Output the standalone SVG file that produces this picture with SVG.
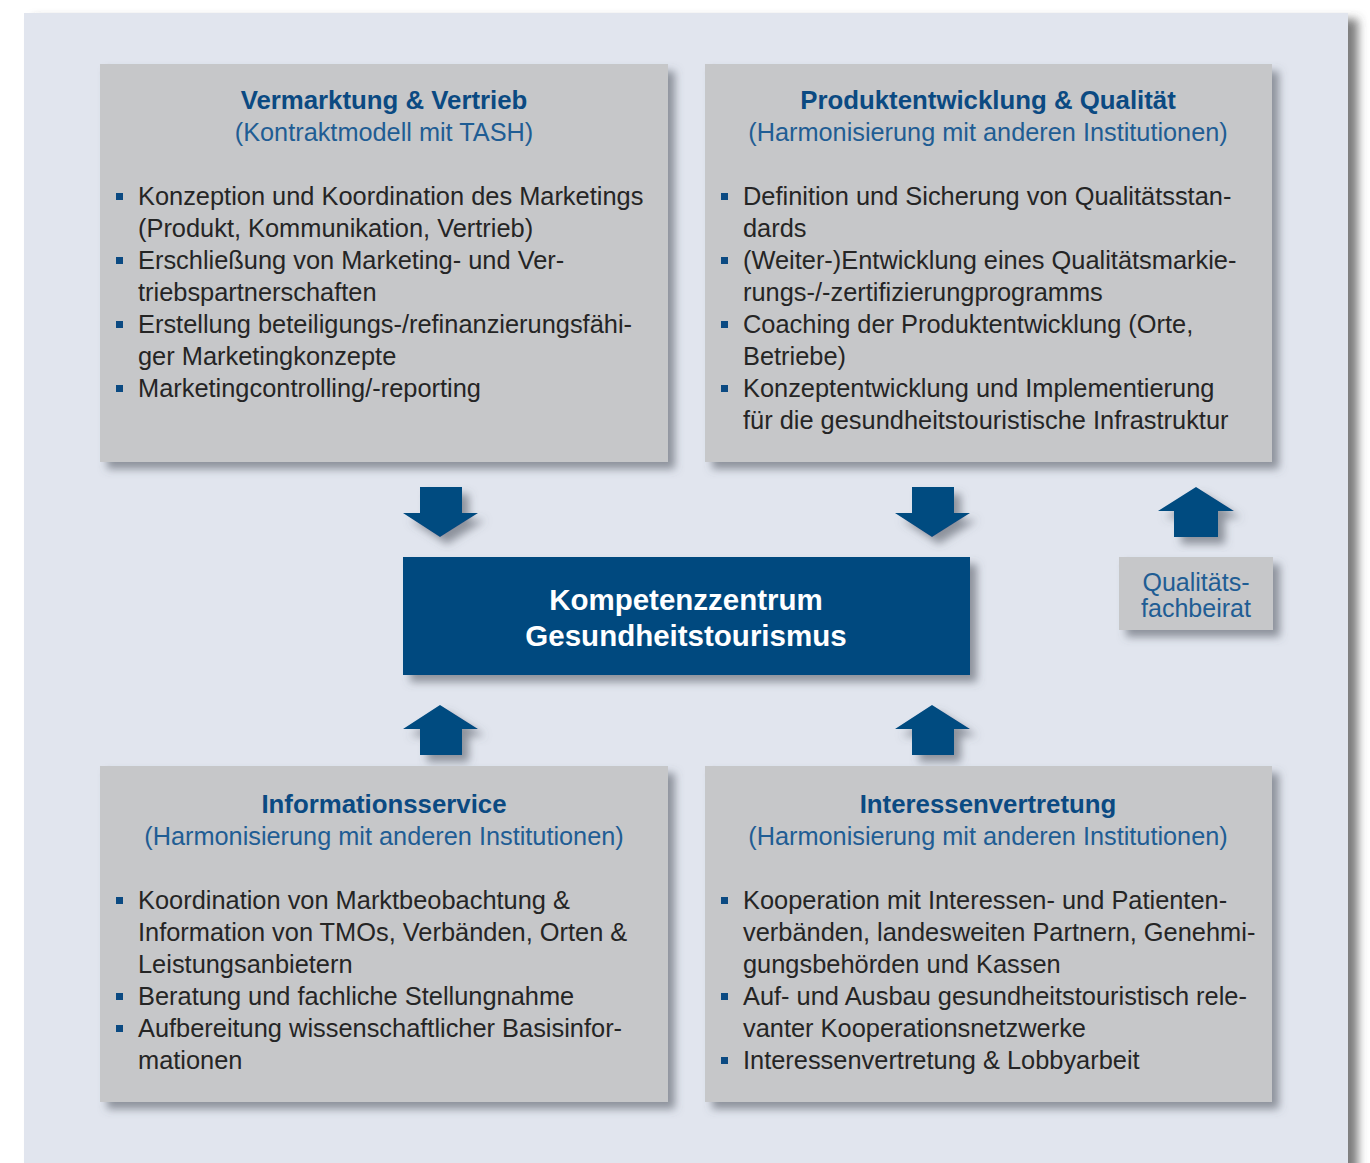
<svg xmlns="http://www.w3.org/2000/svg" width="1370" height="1163" viewBox="0 0 1370 1163">
<defs>
<filter id="sh" x="-10%" y="-10%" width="130%" height="140%">
<feDropShadow dx="7" dy="7" stdDeviation="4" flood-color="#555a66" flood-opacity="0.6"/>
</filter>
<filter id="shp" x="-5%" y="-5%" width="110%" height="110%">
<feDropShadow dx="10" dy="6" stdDeviation="5" flood-color="#444" flood-opacity="0.7"/>
</filter>
<style>
.box{fill:#c6c7c9}
.ttl{font-family:"Liberation Sans",Arial,sans-serif;font-weight:bold;font-size:25.8px;fill:#0b4a82;text-anchor:middle}
.sub{font-family:"Liberation Sans",Arial,sans-serif;font-size:25.3px;fill:#1f5d94;text-anchor:middle}
.bd{font-family:"Liberation Sans",Arial,sans-serif;font-size:25.4px;fill:#252525}
.bl{fill:#0b4a82}
.arr{fill:#024b80}
.ctr{font-family:"Liberation Sans",Arial,sans-serif;font-weight:bold;font-size:29.5px;fill:#fff;text-anchor:middle}
.q{font-family:"Liberation Sans",Arial,sans-serif;font-size:25px;fill:#1f5d94;text-anchor:middle}
</style>
</defs>
<rect x="0" y="0" width="1370" height="1163" fill="#ffffff"/>
<rect x="24" y="13" width="1324" height="1170" fill="#e1e5ee" filter="url(#shp)"/>

<g id="connectors">
<polygon class="arr" filter="url(#sh)" points="420,487 462,487 462,513 478,513 440,537 403,513 420,513"/>
<polygon class="arr" filter="url(#sh)" points="912,487 954,487 954,513 970,513 932,537 895,513 912,513"/>
<polygon class="arr" filter="url(#sh)" points="1196,487 1234,511 1218,511 1218,537 1174,537 1174,511 1158,511"/>
<polygon class="arr" filter="url(#sh)" points="440,705 478,729 462,729 462,755 420,755 420,729 403,729"/>
<polygon class="arr" filter="url(#sh)" points="932,705 970,729 954,729 954,755 912,755 912,729 895,729"/>
</g>

<g id="vermarktung">
<rect class="box" x="100" y="64" width="568" height="398" filter="url(#sh)"/>
<text class="ttl" x="384" y="109">Vermarktung &amp; Vertrieb</text>
<text class="sub" x="384" y="141">(Kontraktmodell mit TASH)</text>
<rect class="bl" x="116" y="193" width="7" height="7"/>
<text class="bd" x="138" y="205">Konzeption und Koordination des Marketings</text>
<text class="bd" x="138" y="237">(Produkt, Kommunikation, Vertrieb)</text>
<rect class="bl" x="116" y="257" width="7" height="7"/>
<text class="bd" x="138" y="269">Erschließung von Marketing- und Ver-</text>
<text class="bd" x="138" y="301">triebspartnerschaften</text>
<rect class="bl" x="116" y="321" width="7" height="7"/>
<text class="bd" x="138" y="333">Erstellung beteiligungs-/refinanzierungsfähi-</text>
<text class="bd" x="138" y="365">ger Marketingkonzepte</text>
<rect class="bl" x="116" y="385" width="7" height="7"/>
<text class="bd" x="138" y="397">Marketingcontrolling/-reporting</text>
</g>

<g id="produktentwicklung">
<rect class="box" x="705" y="64" width="567" height="398" filter="url(#sh)"/>
<text class="ttl" x="988" y="109">Produktentwicklung &amp; Qualität</text>
<text class="sub" x="988" y="141">(Harmonisierung mit anderen Institutionen)</text>
<rect class="bl" x="721" y="193" width="7" height="7"/>
<text class="bd" x="743" y="205">Definition und Sicherung von Qualitätsstan-</text>
<text class="bd" x="743" y="237">dards</text>
<rect class="bl" x="721" y="257" width="7" height="7"/>
<text class="bd" x="743" y="269">(Weiter-)Entwicklung eines Qualitätsmarkie-</text>
<text class="bd" x="743" y="301">rungs-/-zertifizierungprogramms</text>
<rect class="bl" x="721" y="321" width="7" height="7"/>
<text class="bd" x="743" y="333">Coaching der Produktentwicklung (Orte,</text>
<text class="bd" x="743" y="365">Betriebe)</text>
<rect class="bl" x="721" y="385" width="7" height="7"/>
<text class="bd" x="743" y="397">Konzeptentwicklung und Implementierung</text>
<text class="bd" x="743" y="429">für die gesundheitstouristische Infrastruktur</text>
</g>

<g id="kompetenzzentrum">
<rect x="403" y="557" width="567" height="118" fill="#024a7f" filter="url(#sh)"/>
<text class="ctr" x="686" y="610">Kompetenzzentrum</text>
<text class="ctr" x="686" y="646">Gesundheitstourismus</text>
</g>

<g id="qualitaetsfachbeirat">
<rect class="box" x="1119" y="557" width="154" height="73" filter="url(#sh)"/>
<text class="q" x="1196" y="591">Qualitäts-</text>
<text class="q" x="1196" y="617">fachbeirat</text>
</g>

<g id="informationsservice">
<rect class="box" x="100" y="766" width="568" height="336" filter="url(#sh)"/>
<text class="ttl" x="384" y="813">Informationsservice</text>
<text class="sub" x="384" y="845">(Harmonisierung mit anderen Institutionen)</text>
<rect class="bl" x="116" y="897" width="7" height="7"/>
<text class="bd" x="138" y="909">Koordination von Marktbeobachtung &amp;</text>
<text class="bd" x="138" y="941">Information von TMOs, Verbänden, Orten &amp;</text>
<text class="bd" x="138" y="973">Leistungsanbietern</text>
<rect class="bl" x="116" y="993" width="7" height="7"/>
<text class="bd" x="138" y="1005">Beratung und fachliche Stellungnahme</text>
<rect class="bl" x="116" y="1025" width="7" height="7"/>
<text class="bd" x="138" y="1037">Aufbereitung wissenschaftlicher Basisinfor-</text>
<text class="bd" x="138" y="1069">mationen</text>
</g>

<g id="interessenvertretung">
<rect class="box" x="705" y="766" width="567" height="336" filter="url(#sh)"/>
<text class="ttl" x="988" y="813">Interessenvertretung</text>
<text class="sub" x="988" y="845">(Harmonisierung mit anderen Institutionen)</text>
<rect class="bl" x="721" y="897" width="7" height="7"/>
<text class="bd" x="743" y="909">Kooperation mit Interessen- und Patienten-</text>
<text class="bd" x="743" y="941">verbänden, landesweiten Partnern, Genehmi-</text>
<text class="bd" x="743" y="973">gungsbehörden und Kassen</text>
<rect class="bl" x="721" y="993" width="7" height="7"/>
<text class="bd" x="743" y="1005">Auf- und Ausbau gesundheitstouristisch rele-</text>
<text class="bd" x="743" y="1037">vanter Kooperationsnetzwerke</text>
<rect class="bl" x="721" y="1057" width="7" height="7"/>
<text class="bd" x="743" y="1069">Interessenvertretung &amp; Lobbyarbeit</text>
</g>
</svg>
